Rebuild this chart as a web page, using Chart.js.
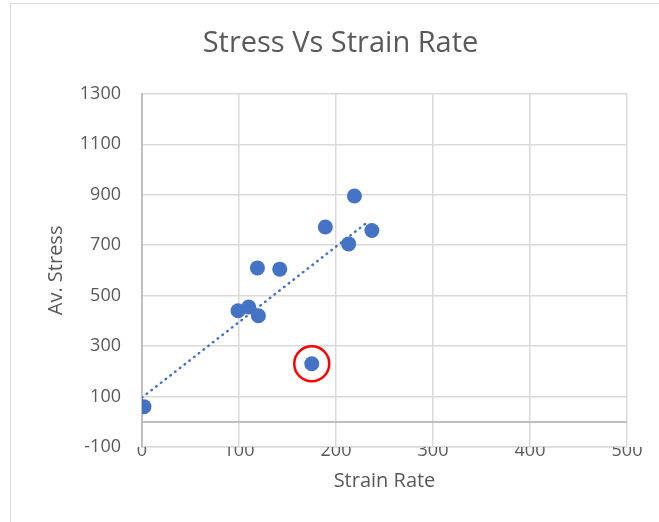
<!DOCTYPE html>
<html>
<head>
<meta charset="utf-8">
<script src="https://cdn.jsdelivr.net/npm/chart.js@4"></script>
<style>
  body { margin: 0; background: #fff; }
  #frame { position: absolute; left: 10px; top: 3px; width: 700px; height: 600px; border: 1px solid #d9d9d9; }
  #stressChart { position: absolute; left: 0; top: 0; }
</style>
</head>
<body>
<div id="frame"></div>
<canvas id="stressChart" width="659" height="522"></canvas>
<script>
const strainRate = [2, 99, 110, 120, 119, 142, 175, 189, 219, 213, 237];
const avStress = [60, 440, 455, 420, 610, 605, 230, 772, 895, 705, 758];

// dotted linear trendline, end points
const trendX = [0, 234];
const trendY = [96, 796];

// the circled outlier
const outlierX = [175];
const outlierY = [230];

const yTicks = [-100, 0, 100, 300, 500, 700, 900, 1100, 1300];
const xTicks = [0, 100, 200, 300, 400, 500];

const blue = "#4472C4";
const textGray = "#595959";
const gridGray = "#d9d9d9";
const axisGray = "#bfbfbf";
const fontFamily = "'Open Sans', sans-serif";

const toPoints = (xs, ys) => xs.map((x, i) => ({ x: x, y: ys[i] }));

const ctx = document.getElementById("stressChart").getContext("2d");
new Chart(ctx, {
    type: "scatter",
    data: {
        datasets: [
            {
                label: "Av. Stress",
                data: toPoints(strainRate, avStress),
                backgroundColor: blue,
                borderColor: blue,
                pointRadius: 7.5,
                borderWidth: 0,
                order: 3
            },
            {
                label: "Trend",
                data: toPoints(trendX, trendY),
                showLine: true,
                borderColor: blue,
                borderWidth: 2.5,
                borderDash: [0.5, 5.5],
                borderCapStyle: "round",
                pointRadius: 0,
                fill: false,
                order: 2
            },
            {
                label: "Outlier",
                data: toPoints(outlierX, outlierY),
                backgroundColor: "rgba(0,0,0,0)",
                borderColor: "#ff0000",
                pointRadius: 17.5,
                borderWidth: 2.5,
                order: 1
            }
        ]
    },
    options: {
        responsive: false,
        animation: false,
        events: [],
        // left padding pushes the title centre over to where Excel put it
        layout: { padding: { left: 54, right: 32, top: 0, bottom: 0 } },
        scales: {
            x: {
                type: "linear",
                min: 0,
                max: 500,
                afterBuildTicks: scale => { scale.ticks = xTicks.map(v => ({ value: v })); },
                afterFit: scale => { scale.height = 75; },
                grid: { color: gridGray, lineWidth: 1.5, drawTicks: false },
                border: { display: true, color: gridGray, width: 1.5 },
                ticks: { color: textGray, font: { family: fontFamily, size: 18 }, padding: -7 },
                title: {
                    display: true,
                    text: "Strain Rate",
                    color: textGray,
                    font: { family: fontFamily, size: 20 },
                    padding: { top: 0, bottom: 29 }
                }
            },
            y: {
                type: "linear",
                min: -100,
                max: 1300,
                afterBuildTicks: scale => { scale.ticks = yTicks.map(v => ({ value: v })); },
                afterFit: scale => { scale.width = 88; },
                grid: {
                    color: c => (c.tick && c.tick.value === 0 ? axisGray : gridGray),
                    lineWidth: c => (c.tick && c.tick.value === 0 ? 2 : 1.5),
                    drawTicks: false
                },
                border: { display: true, color: axisGray, width: 2 },
                ticks: {
                    color: textGray,
                    font: { family: fontFamily, size: 18 },
                    padding: 21,
                    callback: v => (v === 0 ? "" : v)
                },
                title: {
                    display: true,
                    text: "Av. Stress",
                    color: textGray,
                    font: { family: fontFamily, size: 20 },
                    padding: { top: -10, bottom: 0 }
                }
            }
        },
        plugins: {
            legend: { display: false },
            tooltip: { enabled: false },
            title: {
                display: true,
                text: "Stress Vs Strain Rate",
                color: textGray,
                font: { family: fontFamily, size: 29, weight: "normal" },
                padding: { top: 26, bottom: 33 }
            }
        }
    }
});
</script>
</body>
</html>
